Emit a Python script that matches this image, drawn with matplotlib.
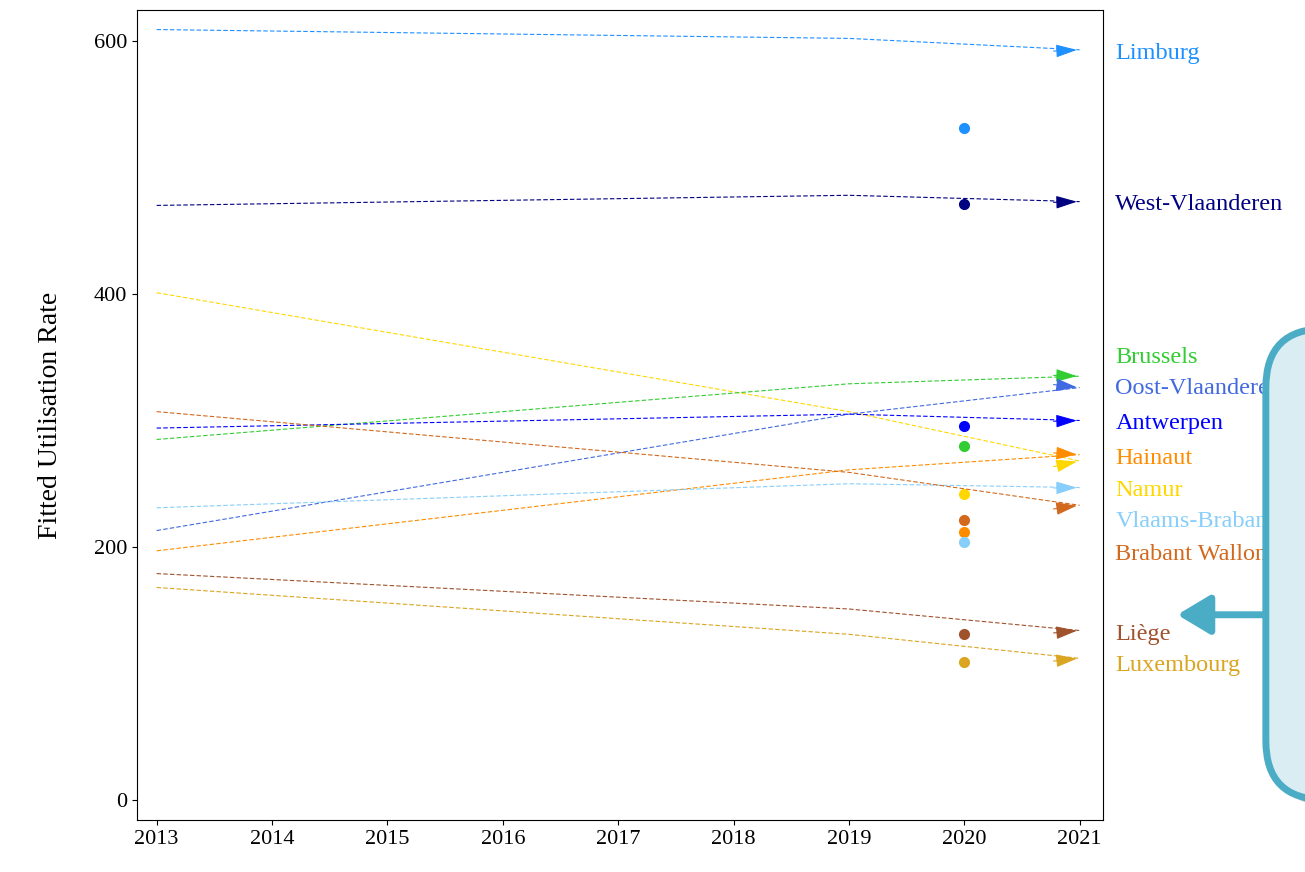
import numpy as np
import matplotlib.pyplot as plt
from matplotlib.patches import FancyBboxPatch, FancyArrowPatch

plt.rcParams['font.family'] = ['Liberation Serif', 'DejaVu Serif']

regions = ['Limburg', 'West-Vlaanderen', 'Namur', 'Brussels', 'Oost-Vlaanderen', 'Antwerpen',
           'Hainaut', 'Vlaams-Brabant', 'Brabant Wallon', 'Liège', 'Luxembourg']
colors = ['#1e90ff', '#000080', '#ffd700', '#32cd32', '#4169e1', '#0000ff',
          '#ff8c00', '#87cefa', '#d2691e', '#a0522d', '#daa520']
years = [2013, 2019, 2021]
fitted = {
    'Limburg': [609, 602, 593],
    'West-Vlaanderen': [470, 478, 473],
    'Namur': [401, 307, 268],
    'Brussels': [285, 329, 335],
    'Oost-Vlaanderen': [213, 305, 326],
    'Antwerpen': [294, 305, 300],
    'Hainaut': [197, 261, 273],
    'Vlaams-Brabant': [231, 250, 247],
    'Brabant Wallon': [307, 259, 233],
    'Liège': [179, 151, 134],
    'Luxembourg': [168, 131, 112],
}
obs_2020 = [531, 471, 242, 280, None, 296, 212, 204, 221, 131, 109]
label_y = [590, 471, 245, 350, 325, 298, 270, 220, 194, 131, 106]

fig = plt.figure(figsize=(13.05, 8.72), dpi=100)
ax = fig.add_axes([0.105, 0.0596, 0.740, 0.929])

for name, c, obs, ly in zip(regions, colors, obs_2020, label_y):
    v = fitted[name]
    ax.plot(years, v, ls='--', lw=0.8, color=c, dashes=(4, 2))
    ax.annotate('', xy=(2021, v[-1]), xytext=(2020.75, v[-1] + (v[-1] - v[-2]) * 0.125),
                arrowprops=dict(arrowstyle='-|>,head_length=1.3,head_width=0.4', color=c, lw=0.8))
    if obs is not None:
        ax.plot(2020, obs, 'o', color=c, ms=7)
    ax.text(2021.31, ly, name, color=c, fontsize=17.5, va='center', clip_on=False)

ax.set_xlim(2012.83, 2021.2)
ax.set_ylim(-15.8, 624.5)
ax.set_xticks(range(2013, 2022))
ax.set_yticks([0, 200, 400, 600])
ax.tick_params(labelsize=16)
ax.set_ylabel('Fitted Utilisation Rate', fontsize=20, labelpad=22)

# callout box (partly off the figure)
shadow = FancyBboxPatch((0.976, 0.075), 0.12, 0.54, boxstyle='round,pad=0,rounding_size=0.045',
                        transform=fig.transFigure, fc='#999999', ec='none', alpha=0.5,
                        mutation_aspect=1.5, zorder=5)
box = FancyBboxPatch((0.97, 0.083), 0.12, 0.54, boxstyle='round,pad=0,rounding_size=0.045',
                     transform=fig.transFigure, fc='#daedf3', ec='#4bacc6', lw=5,
                     mutation_aspect=1.5, zorder=6)
arrow = FancyArrowPatch((0.97, 0.295), (0.9, 0.295), transform=fig.transFigure,
                        arrowstyle='-|>,head_length=10,head_width=6', color='#4bacc6',
                        lw=5, mutation_scale=2, zorder=6)
fig.patches.extend([shadow, box, arrow])

fig.savefig('out.png', dpi=100)
